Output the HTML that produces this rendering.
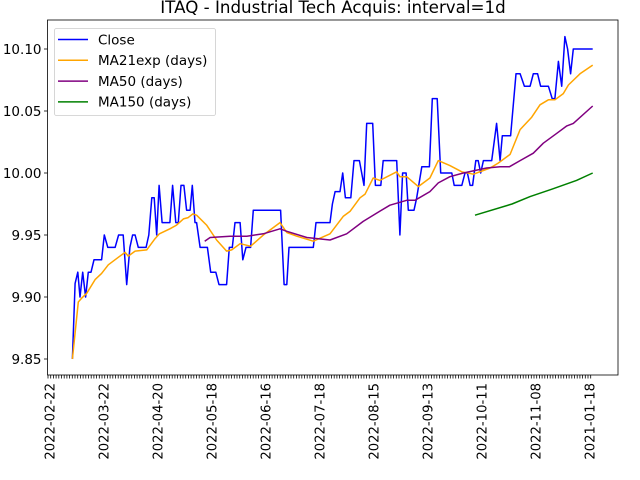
<!DOCTYPE html>
<html><head><meta charset="utf-8"><style>
html,body{margin:0;padding:0;background:#fff;}
svg{display:block;font-family:"DejaVu Sans","Liberation Sans",sans-serif;}
</style></head><body>
<svg id="chart" width="640" height="480" viewBox="0 0 640 480" xmlns="http://www.w3.org/2000/svg">
<rect x="0" y="0" width="640" height="480" fill="#fff"/>
<text x="333" y="13" text-anchor="middle" font-size="16.7" fill="#000">ITAQ - Industrial Tech Acquis: interval=1d</text>
<g id="plot"></g>
</svg>
<script>
const xTickLabels=["2022-02-22","2022-03-22","2022-04-20","2022-05-18","2022-06-16","2022-07-18","2022-08-15","2022-09-13","2022-10-11","2022-11-08","2021-01-18"];
const yTicks=[9.85,9.90,9.95,10.00,10.05,10.10];
const closeIdx=[8.3,9.3,10.3,11.1,12.1,13.2,14.2,15.2,16.3,19.1,20.1,21.4,24.1,25.4,27.1,28.4,29.6,30.6,31.5,32.7,35.6,36.6,37.7,38.6,39.5,40.4,41.5,44.4,45.4,46.6,47.5,48.5,49.6,50.6,51.9,52.7,53.7,54.3,55.6,58.3,59.5,61.4,62.6,65.4,66.4,67.5,68.5,70.4,71.4,72.6,74.3,75.3,85.4,86.7,87.7,88.5,97.5,98.5,103.7,104.6,105.6,107.4,108.4,109.4,111.4,112.6,114.6,116.3,117.3,119.5,120.5,122.5,123.4,128.4,129.6,130.6,131.9,132.7,134.8,135.8,137.7,140.5,141.6,143.4,144.7,148.8,149.7,152.5,153.7,154.6,155.6,156.5,157.7,158.6,159.5,160.5,163.6,165.4,166.7,167.5,170.6,172.6,174.1,175.7,177.8,179,180.6,181.7,184.6,186,187,188.3,189.5,190.7,191.7,192.8,193.8,201];
const closeVal=[9.85,9.911,9.92,9.90,9.92,9.90,9.92,9.92,9.93,9.93,9.95,9.94,9.94,9.95,9.95,9.91,9.94,9.95,9.95,9.94,9.94,9.95,9.98,9.98,9.95,9.99,9.96,9.96,9.99,9.96,9.96,9.99,9.99,9.97,9.97,9.99,9.96,9.96,9.94,9.94,9.92,9.92,9.91,9.91,9.94,9.94,9.96,9.96,9.93,9.94,9.94,9.97,9.97,9.91,9.91,9.94,9.94,9.96,9.96,9.975,9.985,9.985,10.00,9.98,9.98,10.01,10.01,9.99,10.04,10.04,9.99,9.99,10.01,10.01,9.95,10.00,10.00,9.97,9.97,9.98,10.005,10.005,10.06,10.06,10.00,10.00,9.99,9.99,10.00,10.00,9.99,9.99,10.01,10.01,10.00,10.01,10.01,10.04,10.01,10.03,10.03,10.08,10.08,10.07,10.07,10.08,10.08,10.07,10.07,10.06,10.06,10.09,10.07,10.11,10.10,10.08,10.10,10.10];
const ma21Idx=[8.3,10.5,11.7,13.6,16.7,19.1,21.6,25.3,27.8,29,31.5,35.8,38.9,40.5,44.4,46.9,49.4,51.2,52.9,54.3,58,61.7,65.4,67.3,70.4,74.3,79,85.2,87.7,91.4,97.5,103.7,108.6,111.1,114.8,116.7,119.7,122.2,128.4,129.6,132.1,136.4,140.7,143.8,148.1,152.5,156.8,163,166,170.4,174.1,178.4,181.5,184.6,187,190.1,192,196.3,201];
const ma21Val=[9.85,9.896,9.899,9.903,9.914,9.919,9.926,9.932,9.936,9.933,9.937,9.938,9.947,9.951,9.955,9.958,9.963,9.964,9.967,9.966,9.958,9.946,9.937,9.938,9.943,9.941,9.95,9.96,9.952,9.949,9.945,9.951,9.965,9.969,9.98,9.983,9.996,9.994,10.001,9.997,9.997,9.989,9.996,10.01,10.006,10.001,9.999,10.004,10.008,10.015,10.035,10.045,10.055,10.059,10.059,10.064,10.071,10.08,10.087];
const ma50Idx=[57.3,59.3,66.7,72.9,79,85.2,87.7,95.1,103.7,109.9,116,119.7,125.9,132.1,135.2,140.7,143.8,148.1,153.1,161.7,166.7,170.1,174.1,179,182.7,187.7,191.4,193.8,201];
const ma50Val=[9.945,9.948,9.949,9.949,9.951,9.955,9.953,9.948,9.946,9.951,9.961,9.966,9.974,9.978,9.978,9.985,9.992,9.997,10.0,10.004,10.005,10.005,10.010,10.016,10.024,10.032,10.038,10.040,10.054];
const ma150Idx=[157.4,171.1,177.8,186,195,201];
const ma150Val=[9.966,9.975,9.981,9.987,9.994,10.0];

const NS="http://www.w3.org/2000/svg";
const L=47.5,R=618,T=20,B=375;
const xs=i=>50+i*2.7;
const ys=v=>173-(v-10)*1240;
const plot=document.getElementById('plot');
function mk(tag,attrs,parent){const e=document.createElementNS(NS,tag);for(const k in attrs)e.setAttribute(k,attrs[k]);(parent||plot).appendChild(e);return e;}

// x ticks
for(let i=0;i<=201;i++){
  const t=mk('line',{x1:xs(i)-2,x2:xs(i)-2,y1:B,y2:B+3.5,stroke:'#000','stroke-width':0.8});
  
  
}
xTickLabels.forEach((lab,k)=>{
  const x=xs(k*20);
  const t=mk('text',{x:0,y:0,transform:`translate(${x+4.5},${B+8}) rotate(-90)`,'text-anchor':'end','font-size':13.2,fill:'#000'});
  t.textContent=lab;
  
  
});
yTicks.forEach(v=>{
  const y=ys(v);
  const t=mk('line',{x1:L-3.5,x2:L,y1:y,y2:y,stroke:'#000','stroke-width':0.8});
  
  
  const lb=mk('text',{x:L-6,y:y+4.8,'text-anchor':'end','font-size':13.5,fill:'#000'});
  lb.textContent=v.toFixed(2);
  
  
});
function line(idx,val,color,name){
  const d=idx.map((i,k)=>(k?'L':'M')+xs(i).toFixed(1)+','+ys(val[k]).toFixed(1)).join(' ');
  const p=mk('path',{d:d,fill:'none',stroke:color,'stroke-width':1.5,'stroke-linejoin':'round'});
  
  
}
line(closeIdx,closeVal,'#0000ff','close-line');
line(ma21Idx,ma21Val,'#ffa500','ma21exp-line');
line(ma50Idx,ma50Val,'#800080','ma50-line');
line(ma150Idx,ma150Val,'#008000','ma150-line');

const frame=mk('rect',{x:L,y:T,width:R-L,height:B-T,fill:'none',stroke:'#000','stroke-width':0.8});



// legend
const lg=mk('g',{});


mk('rect',{x:54.5,y:28.5,width:161,height:87,rx:2,fill:'#fff','fill-opacity':0.8,stroke:'#ccc','stroke-width':0.8},lg);
const entries=[['Close','#0000ff'],['MA21exp (days)','#ffa500'],['MA50 (days)','#800080'],['MA150 (days)','#008000']];
entries.forEach((e,k)=>{
  const y=39.5+k*20.8;
  const g=mk('g',{},lg);
  
  
  mk('line',{x1:58,x2:88,y1:y,y2:y,stroke:e[1],'stroke-width':1.5},g);
  const t=mk('text',{x:98,y:y+4.8,'font-size':13.5,fill:'#000'},g);
  t.textContent=e[0];
});
</script>
</body></html>
